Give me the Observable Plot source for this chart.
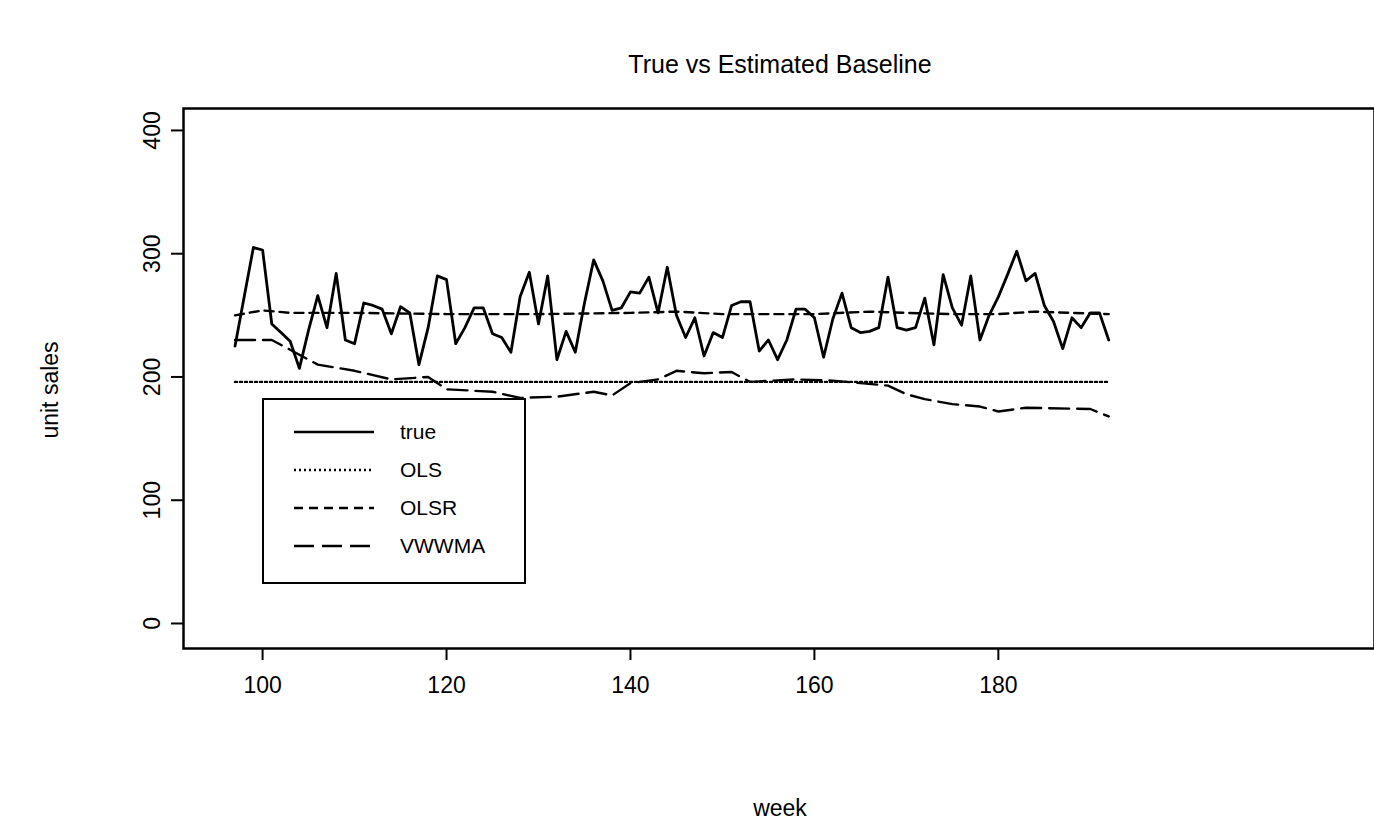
<!DOCTYPE html>
<html><head><meta charset="utf-8">
<script src="https://cdn.jsdelivr.net/npm/d3@7"></script>
<script src="https://cdn.jsdelivr.net/npm/@observablehq/plot@0.6"></script>
<style>
body{margin:0;background:#fff;font-family:"Liberation Sans",Arial,sans-serif;}
#wrap{position:relative;width:1374px;height:828px;}
.t{position:absolute;font-size:23px;color:#000;}
#legend{position:absolute;left:262px;top:398px;width:260px;height:182px;border:2px solid #000;background:#fff;}
#legend div{position:absolute;left:30px;font-size:21px;display:flex;align-items:center;}
#legend span{margin-left:26px;}
#chart text{font-size:23px;}
</style></head>
<body>
<div id="wrap">
<div id="chart"></div>
<div class="t" style="left:0;width:1560px;top:50px;text-align:center;font-size:25px">True vs Estimated Baseline</div>
<div class="t" style="left:0;width:1560px;top:795px;text-align:center">week</div>
<div class="t" style="left:50px;top:390px;transform:translate(-50%,-50%) rotate(-90deg);white-space:nowrap">unit sales</div>
<div id="legend"></div>
</div>
<script>
const weeks = d3.range(97, 193);
const trueSales = [225,265,305,303,243,236,229,207,238,266,240,284,230,227,260,258,255,235,257,252,
210,240,282,279,227,240,256,256,235,232,220,265,285,243,282,214,237,220,260,295,278,254,256,269,268,
281,252,289,250,232,248,217,236,232,258,261,261,221,230,214,230,255,255,248,216,247,268,240,236,237,
240,281,240,238,240,264,226,283,256,242,282,230,250,265,283,302,278,284,258,245,223,248,240,252,252,230];
const olsWeeks = [97, 192];
const olsValues = [196, 196];
const olsrWeeks = [97,100,103,110,120,130,140,145,150,160,166,170,175,180,184,188,192];
const olsrValues = [250,254,252,252,251,251,252,253,251,251,253,252,251,251,253,252,251];
const vwWeeks = [97,101,104,106,110,114,118,120,125,128,132,136,138,140,143,145,148,151,153,158,162,165,168,170,172,175,178,180,183,190,192];
const vwValues = [230,230,218,210,205,198,200,190,188,183,184,188,185,195,198,205,203,204,196,198,197,195,193,186,182,178,176,172,175,174,168];

const series = [
  {name:"true", dash:null},
  {name:"OLS", dash:"2,3"},
  {name:"OLSR", dash:"9,6"},
  {name:"VWWMA", dash:"20,8"}
];
const rows = [
  ...weeks.map((w,i)=>({s:"true",week:w,v:trueSales[i]})),
  ...olsWeeks.map((w,i)=>({s:"OLS",week:w,v:olsValues[i]})),
  ...olsrWeeks.map((w,i)=>({s:"OLSR",week:w,v:olsrValues[i]})),
  ...vwWeeks.map((w,i)=>({s:"VWWMA",week:w,v:vwValues[i]}))
];

const chart = Plot.plot({
  width:1374, height:828,
  marginLeft:183, marginRight:0, marginTop:108, marginBottom:180,
  style:{fontFamily:"Liberation Sans, Arial, sans-serif", fontSize:"23px", color:"#000", background:"#fff"},
  x:{domain:[91.4,220.9]},
  y:{domain:[-20.3,417.8]},
  marks:[
    Plot.frame({stroke:"#000", strokeWidth:2.5}),
    Plot.axisX({ticks:[100,120,140,160,180], tickSize:12, tickPadding:16, label:null, strokeWidth:2}),
    Plot.axisY({ticks:[0,100,200,300,400], tickSize:12, tickPadding:12, tickRotate:-90, label:null, strokeWidth:2}),
    ...series.map(s => Plot.line(rows.filter(d=>d.s===s.name), {
      x:"week", y:"v", stroke:"#000", strokeWidth:s.name==="true"?2.8:2.4,
      strokeDasharray:s.dash, curve:"linear"
    }))
  ]
});
document.getElementById("chart").append(chart);

const leg = document.getElementById("legend");
series.forEach((s,i)=>{
  const d = document.createElement("div");
  d.style.top = (20 + i*38) + "px";
  d.innerHTML = `<svg width="80" height="10"><line x1="0" x2="80" y1="5" y2="5" stroke="#000" stroke-width="2.4" ${s.dash?`stroke-dasharray="${s.dash}"`:""}/></svg><span>${s.name}</span>`;
  leg.append(d);
});
</script>
</body></html>
